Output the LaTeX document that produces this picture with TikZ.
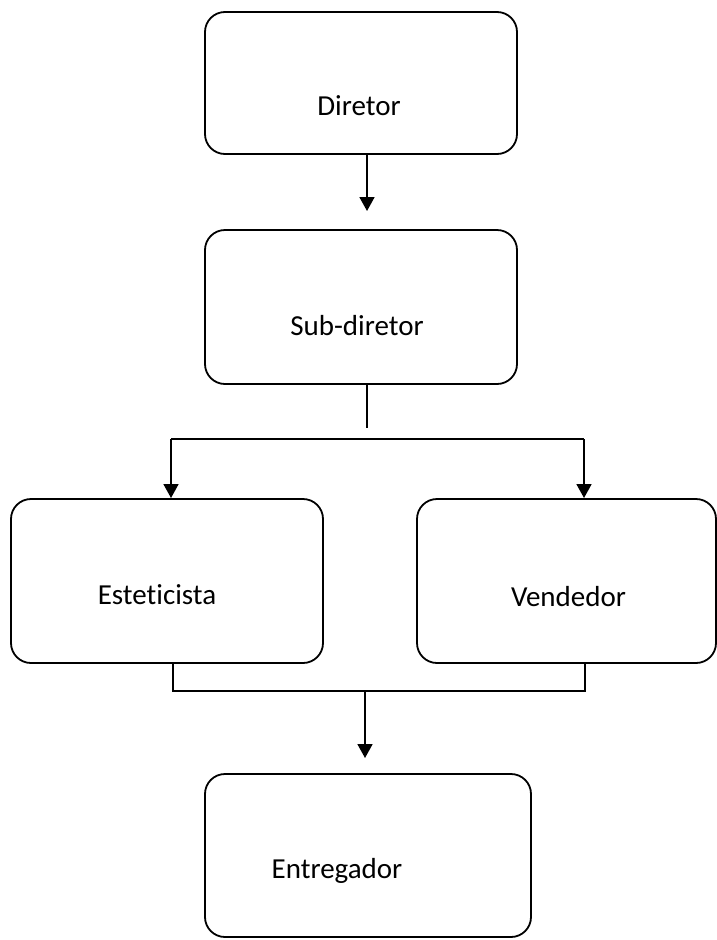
\documentclass[tikz,border=0pt]{standalone}
\usepackage{fontspec}
\setmainfont[Ligatures=NoCommon]{Carlito}
\usetikzlibrary{arrows.meta}
\tikzset{
	cargo/.style={draw, line width=1.8pt, rounded corners=20pt, inner sep=0pt},
	seta/.style={line width=1.8pt, -{Triangle[width=15pt,length=14pt]}},
	linha/.style={line width=1.8pt}
}

\begin{document}
\begin{tikzpicture}[x=1pt, y=-1pt, font=\fontsize{29}{34}\selectfont]
			%%%%% START %%%%%
			
			\useasboundingbox (0, 0) rectangle (717, 940);
			
			\node[cargo, minimum width=312pt, minimum height=142pt, label={[xshift=-2pt, yshift=-23pt]center:Diretor}] (dir) at (361, 83) {};
			\node[cargo, minimum width=312pt, minimum height=154pt, label={[xshift=-4pt, yshift=-19pt]center:Sub-diretor}] (sub) at (361, 307) {};
			\node[cargo, minimum width=312pt, minimum height=164pt, label={[xshift=-10pt, yshift=-14pt]center:Esteticista}] (est) at (167, 581) {};
			\node[cargo, minimum width=299pt, minimum height=164pt, label={[xshift=2pt, yshift=-16pt]center:Vendedor}] (ven) at (566.5, 581) {};
			\node[cargo, minimum width=326pt, minimum height=163pt, label={[xshift=-31pt, yshift=-15pt]center:Entregador}] (ent) at (368, 855.5) {};
			
			\coordinate (d1) at (367, 211);
			\coordinate (s1) at (367, 428);
			\coordinate (e1) at (171, 498);
			\coordinate (v1) at (584, 498);
			\coordinate (ea) at (173, 691);
			\coordinate (va) at (585, 691);
			\coordinate (n1) at (365, 758);
			
			\draw[seta] (d1 |- dir.south) -- (d1);
			
			\draw[linha] (s1 |- sub.south) -- (s1);
			\draw[seta] (e1 |- 0, 439) -- (e1);
			\draw[linha] (e1 |- 0, 439) -- (v1 |- 0, 439);
			\draw[seta] (v1 |- 0, 439) -- (v1);
			
			\draw[linha] (ea |- est.south) -- (ea) -- (va) -- (va |- ven.south);
			\draw[seta] (n1 |- ea) -- (n1);
			
			%%%%% END %%%%%
\end{tikzpicture}
\end{document}
